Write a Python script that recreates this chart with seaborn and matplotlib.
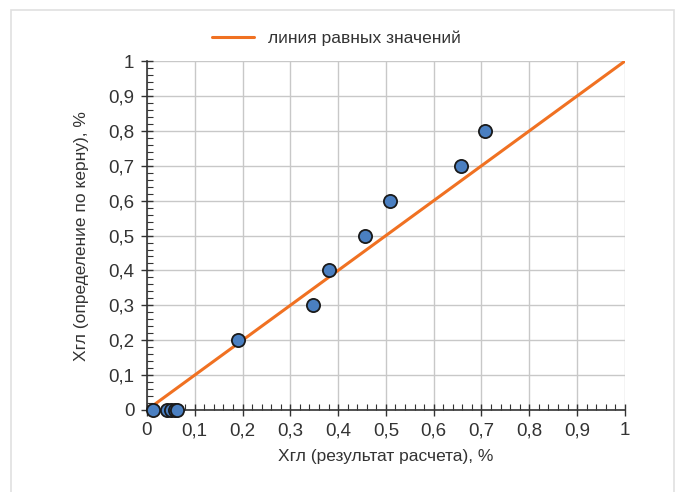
import numpy as np
import pandas as pd
import seaborn as sns
import matplotlib.pyplot as plt
from matplotlib.patches import Rectangle
from matplotlib.ticker import MultipleLocator, FuncFormatter

# measured points (calc vs core)
x_calc = [0.013, 0.042, 0.05, 0.058, 0.064, 0.19, 0.347, 0.38, 0.456, 0.508, 0.657, 0.707]
y_core = [0.0, 0.0, 0.0, 0.0, 0.0, 0.2, 0.3, 0.4, 0.5, 0.6, 0.7, 0.8]
line_x = [0, 1]
line_y = [0, 1]

df = pd.DataFrame({'calc': x_calc, 'core': y_core})

sns.set_style('white')
plt.rcParams['font.family'] = ['Liberation Sans', 'DejaVu Sans']

fig = plt.figure(figsize=(6.77, 4.92), dpi=100)
ax = fig.add_axes([0.217, 0.1667, 0.706, 0.709])

# light frame around the whole picture
fig.patches.append(Rectangle((0.016, -0.01), 0.98, 0.99, transform=fig.transFigure,
                             fill=False, edgecolor='#e0e0e0', linewidth=1.2))

sns.lineplot(x=line_x, y=line_y, ax=ax, color='#f07122', linewidth=2.2,
             label='линия равных значений', zorder=2)
sns.scatterplot(data=df, x='calc', y='core', ax=ax, s=90, color='#4a7fc1',
                edgecolor='#1a1a1a', linewidth=1.3, zorder=3, clip_on=False)

ax.set_xlim(0, 1)
ax.set_ylim(0, 1)
ax.xaxis.set_major_locator(MultipleLocator(0.1))
ax.yaxis.set_major_locator(MultipleLocator(0.1))
ax.xaxis.set_minor_locator(MultipleLocator(0.02))
ax.yaxis.set_minor_locator(MultipleLocator(0.02))
fmt = FuncFormatter(lambda v, p: ('%g' % round(v, 1)).replace('.', ','))
ax.xaxis.set_major_formatter(fmt)
ax.yaxis.set_major_formatter(fmt)

ax.grid(True, which='major', color='#c8c8c8', linewidth=1.0)
ax.set_axisbelow(True)
for s in ['top', 'right']:
    ax.spines[s].set_visible(False)
for s in ['left', 'bottom']:
    ax.spines[s].set_color('#333333')
    ax.spines[s].set_linewidth(1.2)

ax.tick_params(which='major', direction='inout', length=8, width=1, color='#333333',
               labelsize=13.5, labelcolor='#333333', pad=5)
ax.tick_params(which='minor', direction='in', length=4, width=0.8, color='#333333')
ax.tick_params(axis='x', which='both', bottom=True)
ax.tick_params(axis='y', which='both', left=True)

ax.set_xlabel('Хгл (результат расчета), %', fontsize=12.5, color='#333333', labelpad=7)
ax.set_ylabel('Хгл (определение по керну), %', fontsize=12.5, color='#333333', labelpad=14)

leg = ax.legend(loc='center', bbox_to_anchor=(0.397, 1.066), frameon=False,
                fontsize=12.5, handlelength=2.4)
for t in leg.get_texts():
    t.set_color('#333333')

fig.savefig('out.png', dpi=100)
